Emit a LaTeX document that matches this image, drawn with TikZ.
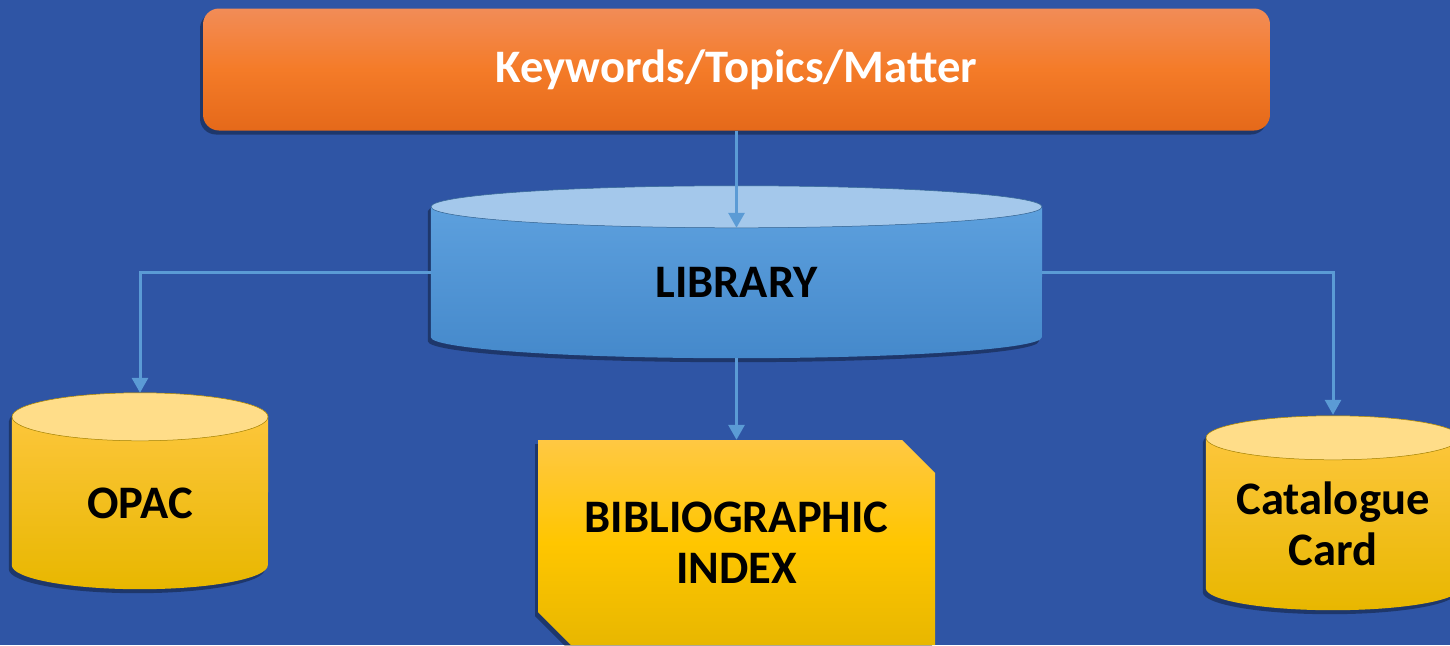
\documentclass[tikz,border=0pt]{standalone}
\usepackage{fontspec}
\setmainfont{Carlito}
\usetikzlibrary{arrows.meta,shapes.misc,shadows,backgrounds}

\definecolor{slidebg}{HTML}{2F55A5}
\definecolor{linkblue}{HTML}{5B9BD5}
\definecolor{orangetop}{HTML}{F28C57}
\definecolor{orangemid}{HTML}{F47B28}
\definecolor{orangebot}{HTML}{E5691A}
\definecolor{goldtop}{HTML}{FFC843}
\definecolor{goldmid}{HTML}{FFC600}
\definecolor{goldbot}{HTML}{E8B700}
\definecolor{goldlid}{HTML}{FFDD89}
\definecolor{bluetop}{HTML}{60A3E0}
\definecolor{bluebot}{HTML}{4589CB}
\definecolor{bluelid}{HTML}{A4C8EB}

\tikzset{
  bigtext/.style={font=\bfseries\fontsize{46.6}{51}\selectfont, align=center},
  face/.style={rectangle, bigtext, inner sep=0pt},
  link/.style={draw=linkblue, line width=3pt, -{Triangle[width=16pt,length=15pt]}},
  dropdark/.style={drop shadow={shadow xshift=-3pt, shadow yshift=-4pt, fill=black, opacity=0.35}}
}

\begin{document}
\begin{tikzpicture}[x=1pt,y=-1pt]
\useasboundingbox (0,0) rectangle (1450,645);
\begin{scope}[on background layer]
\fill[slidebg] (0,0) rectangle (1450,645);
\end{scope}

% search terms on top
\node (topic)[rounded corners=16pt, minimum width=1067pt, minimum height=122pt,
  top color=orangetop, bottom color=orangebot, middle color=orangemid,
  text=white, bigtext, dropdark] at (736.5,69.5) {Keywords/Topics/Matter};

% front faces of the drums
\node (lib)[face, minimum width=611pt, minimum height=109pt] at (736.5,282.5) {LIBRARY};
\node (opac)[face, minimum width=256pt, minimum height=124pt] at (140,503) {OPAC};
\node (card)[face, minimum width=254pt, minimum height=128pt] at (1333,524) {Catalogue\\Card};

\node (bib)[chamfered rectangle, chamfered rectangle corners={north east,south west},
  chamfered rectangle xsep=16.5pt, chamfered rectangle ysep=16.5pt,
  minimum width=397pt, minimum height=205pt, inner sep=0pt,
  top color=goldtop, bottom color=goldbot, middle color=goldmid,
  bigtext, dropdark] at (736.5,542.5) {BIBLIOGRAPHIC\\INDEX};

% drum bodies and lids
\begin{scope}[on background layer]
\foreach \n/\rx/\ry/\cl/\ct/\cb in {lib/305.5/21/bluelid/bluetop/bluebot,
    opac/128/24/goldlid/goldtop/goldbot, card/127/22/goldlid/goldtop/goldbot}{
  \shade[top color=\ct, bottom color=\cb, dropdark]
    ([yshift=\ry pt]\n.north west) -- (\n.south west)
    arc[start angle=180, end angle=360, x radius=\rx pt, y radius=\ry pt]
    -- ([yshift=\ry pt]\n.north east)
    arc[start angle=0, end angle=180, x radius=\rx pt, y radius=\ry pt] -- cycle;
  \filldraw[fill=\cl, draw=\cb!70!black, line width=0.5pt]
    ([yshift=\ry pt]\n.north) ellipse[x radius=\rx pt, y radius=\ry pt];
}
\end{scope}

\draw[link] (topic.south) -- (lib.north);
\draw[link] ([yshift=10.5pt]lib.west) -| ([yshift=48pt]opac.north);
\draw[link] ([yshift=10.5pt]lib.east) -| ([yshift=45pt]card.north);
\draw[link] ([yshift=-21pt]lib.south) -- (bib.north);
\end{tikzpicture}
\end{document}
